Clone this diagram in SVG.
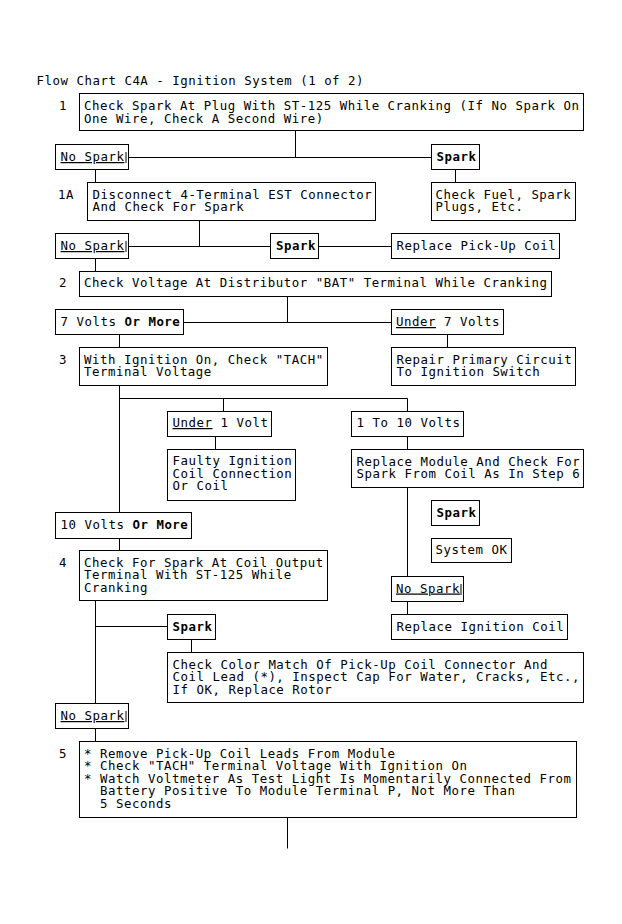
<svg xmlns="http://www.w3.org/2000/svg" width="622" height="924" viewBox="0 0 622 924">
<style>
text{font-family:"DejaVu Sans Mono","Liberation Mono",monospace;font-size:12.4px;letter-spacing:0.53px;fill:#000}
.b{font-weight:bold}
.u{text-decoration:underline}
rect.n{fill:#fff;stroke:#000;stroke-width:1}
.c line{stroke:#000;stroke-width:1}
line.t{stroke:#000;stroke-width:1}
</style>
<rect x="0" y="0" width="622" height="924" fill="#fff"/>
<text x="36.5" y="85">Flow Chart C4A - Ignition System (1 of 2)</text>

<g class="c" id="connectors">
<line x1="295.5" y1="130.5" x2="295.5" y2="157.5"/>
<line x1="128.5" y1="157.5" x2="431.5" y2="157.5"/>
<line x1="95.5" y1="169.5" x2="95.5" y2="182.5"/>
<line x1="455.5" y1="169.5" x2="455.5" y2="182.5"/>
<line x1="199.5" y1="220.5" x2="199.5" y2="246.5"/>
<line x1="128.5" y1="246.5" x2="270.5" y2="246.5"/>
<line x1="318.5" y1="246.5" x2="391.5" y2="246.5"/>
<line x1="95.5" y1="258.5" x2="95.5" y2="271.5"/>
<line x1="287.5" y1="296.5" x2="287.5" y2="322.5"/>
<line x1="183.5" y1="322.5" x2="391.5" y2="322.5"/>
<line x1="447.5" y1="334.5" x2="447.5" y2="347.5"/>
<line x1="119.5" y1="334.5" x2="119.5" y2="347.5"/>
<line x1="119.5" y1="385.5" x2="119.5" y2="512.5"/>
<line x1="119.5" y1="398.5" x2="407.5" y2="398.5"/>
<line x1="223.5" y1="398.5" x2="223.5" y2="411.5"/>
<line x1="407.5" y1="398.5" x2="407.5" y2="411.5"/>
<line x1="215.5" y1="436.5" x2="215.5" y2="449.5"/>
<line x1="407.5" y1="436.5" x2="407.5" y2="449.5"/>
<line x1="407.5" y1="487.5" x2="407.5" y2="576.5"/>
<line x1="407.5" y1="601.5" x2="407.5" y2="614.5"/>
<line x1="119.5" y1="538.5" x2="119.5" y2="550.5"/>
<line x1="95.5" y1="600.5" x2="95.5" y2="703.5"/>
<line x1="95.5" y1="626.5" x2="167.5" y2="626.5"/>
<line x1="191.5" y1="639.5" x2="191.5" y2="652.5"/>
<line x1="95.5" y1="728.5" x2="95.5" y2="741.5"/>
<line x1="287.5" y1="817.5" x2="287.5" y2="848.5"/>
</g>

<g id="step1">
<text x="59" y="110">1</text>
<rect class="n" x="79.5" y="93.5" width="504" height="37"/>
<text x="84" y="110">Check Spark At Plug With ST-125 While Cranking (If No Spark On</text>
<text x="84" y="122.5">One Wire, Check A Second Wire)</text>
</g>
<g id="nospark1">
<rect class="n" x="55.5" y="144.5" width="73" height="25"/>
<line class="t" x1="126" y1="152" x2="126" y2="163"/>
<text x="60.5" y="161" class="u">No Spark</text>
</g>
<g id="spark1">
<rect class="n" x="431.5" y="144.5" width="48" height="25"/>
<text x="436.5" y="161" class="b">Spark</text>
</g>
<g id="checkfuel">
<rect class="n" x="431.5" y="182.5" width="144" height="38"/>
<text x="435.5" y="198.5">Check Fuel, Spark</text>
<text x="435.5" y="211">Plugs, Etc.</text>
</g>
<g id="step1a">
<text x="58" y="198.5">1A</text>
<rect class="n" x="87.5" y="182.5" width="288" height="38"/>
<text x="92.5" y="198.5">Disconnect 4-Terminal EST Connector</text>
<text x="92.5" y="211">And Check For Spark</text>
</g>
<g id="nospark2">
<rect class="n" x="55.5" y="233.5" width="73" height="25"/>
<line class="t" x1="126" y1="241" x2="126" y2="252"/>
<text x="60.5" y="250" class="u">No Spark</text>
</g>
<g id="spark2">
<rect class="n" x="270.5" y="233.5" width="48" height="25"/>
<text x="276" y="250" class="b">Spark</text>
</g>
<g id="replacepickup">
<rect class="n" x="391.5" y="233.5" width="168" height="25"/>
<text x="396.5" y="250">Replace Pick-Up Coil</text>
</g>
<g id="step2">
<text x="59" y="287">2</text>
<rect class="n" x="79.5" y="271.5" width="472" height="25"/>
<text x="84" y="287">Check Voltage At Distributor "BAT" Terminal While Cranking</text>
</g>
<g id="sevenvolts">
<rect class="n" x="55.5" y="309.5" width="128" height="25"/>
<text x="60.5" y="326">7 Volts <tspan class="b">Or More</tspan></text>
</g>
<g id="under7">
<rect class="n" x="391.5" y="309.5" width="112" height="25"/>
<text x="396" y="326"><tspan class="u">Under</tspan> 7 Volts</text>
</g>
<g id="repair">
<rect class="n" x="391.5" y="347.5" width="184" height="38"/>
<text x="396.5" y="363.5">Repair Primary Circuit</text>
<text x="396.5" y="376">To Ignition Switch</text>
</g>
<g id="step3">
<text x="59" y="363.5">3</text>
<rect class="n" x="79.5" y="347.5" width="248" height="38"/>
<text x="84" y="363.5">With Ignition On, Check "TACH"</text>
<text x="84" y="376">Terminal Voltage</text>
</g>
<g id="under1">
<rect class="n" x="167.5" y="411.5" width="104" height="25"/>
<text x="172.5" y="427"><tspan class="u">Under</tspan> 1 Volt</text>
</g>
<g id="faulty">
<rect class="n" x="167.5" y="449.5" width="128" height="51"/>
<text x="172.5" y="465">Faulty Ignition</text>
<text x="172.5" y="477.5">Coil Connection</text>
<text x="172.5" y="490">Or Coil</text>
</g>
<g id="oneto10">
<rect class="n" x="351.5" y="411.5" width="112" height="25"/>
<text x="356.5" y="427">1 To 10 Volts</text>
</g>
<g id="replacemodule">
<rect class="n" x="351.5" y="449.5" width="232" height="38"/>
<text x="356.5" y="465.5">Replace Module And Check For</text>
<text x="356.5" y="478">Spark From Coil As In Step 6</text>
</g>
<g id="spark3">
<rect class="n" x="431.5" y="500.5" width="48" height="25"/>
<text x="436.5" y="516.5" class="b">Spark</text>
</g>
<g id="systemok">
<rect class="n" x="431.5" y="538.5" width="80" height="24"/>
<text x="435.5" y="554">System OK</text>
</g>
<g id="nospark3">
<rect class="n" x="391.5" y="576.5" width="72" height="25"/>
<line class="t" x1="461" y1="584" x2="461" y2="595"/>
<text x="396" y="592.5" class="u">No Spark</text>
</g>
<g id="replaceignition">
<rect class="n" x="391.5" y="614.5" width="176" height="25"/>
<text x="396.5" y="630.5">Replace Ignition Coil</text>
</g>
<g id="tenvolts">
<rect class="n" x="55.5" y="512.5" width="136" height="26"/>
<text x="60.5" y="529">10 Volts <tspan class="b">Or More</tspan></text>
</g>
<g id="step4">
<text x="59" y="566.5">4</text>
<rect class="n" x="79.5" y="550.5" width="248" height="50"/>
<text x="84" y="566.5">Check For Spark At Coil Output</text>
<text x="84" y="579">Terminal With ST-125 While</text>
<text x="84" y="591.5">Cranking</text>
</g>
<g id="spark4">
<rect class="n" x="167.5" y="614.5" width="48" height="25"/>
<text x="172.5" y="630.5" class="b">Spark</text>
</g>
<g id="checkcolor">
<rect class="n" x="167.5" y="652.5" width="416" height="50"/>
<text x="172.5" y="668.5">Check Color Match Of Pick-Up Coil Connector And</text>
<text x="172.5" y="681">Coil Lead (*), Inspect Cap For Water, Cracks, Etc.,</text>
<text x="172.5" y="693.5">If OK, Replace Rotor</text>
</g>
<g id="nospark4">
<rect class="n" x="55.5" y="703.5" width="73" height="25"/>
<line class="t" x1="126" y1="711" x2="126" y2="722"/>
<text x="60.5" y="720" class="u">No Spark</text>
</g>
<g id="step5">
<text x="59" y="757.5">5</text>
<rect class="n" x="79.5" y="741.5" width="497" height="76"/>
<text x="84" y="757.5">* Remove Pick-Up Coil Leads From Module</text>
<text x="84" y="770">* Check "TACH" Terminal Voltage With Ignition On</text>
<text x="84" y="782.5">* Watch Voltmeter As Test Light Is Momentarily Connected From</text>
<text x="100" y="795">Battery Positive To Module Terminal P, Not More Than</text>
<text x="100" y="807.5">5 Seconds</text>
</g>
</svg>
